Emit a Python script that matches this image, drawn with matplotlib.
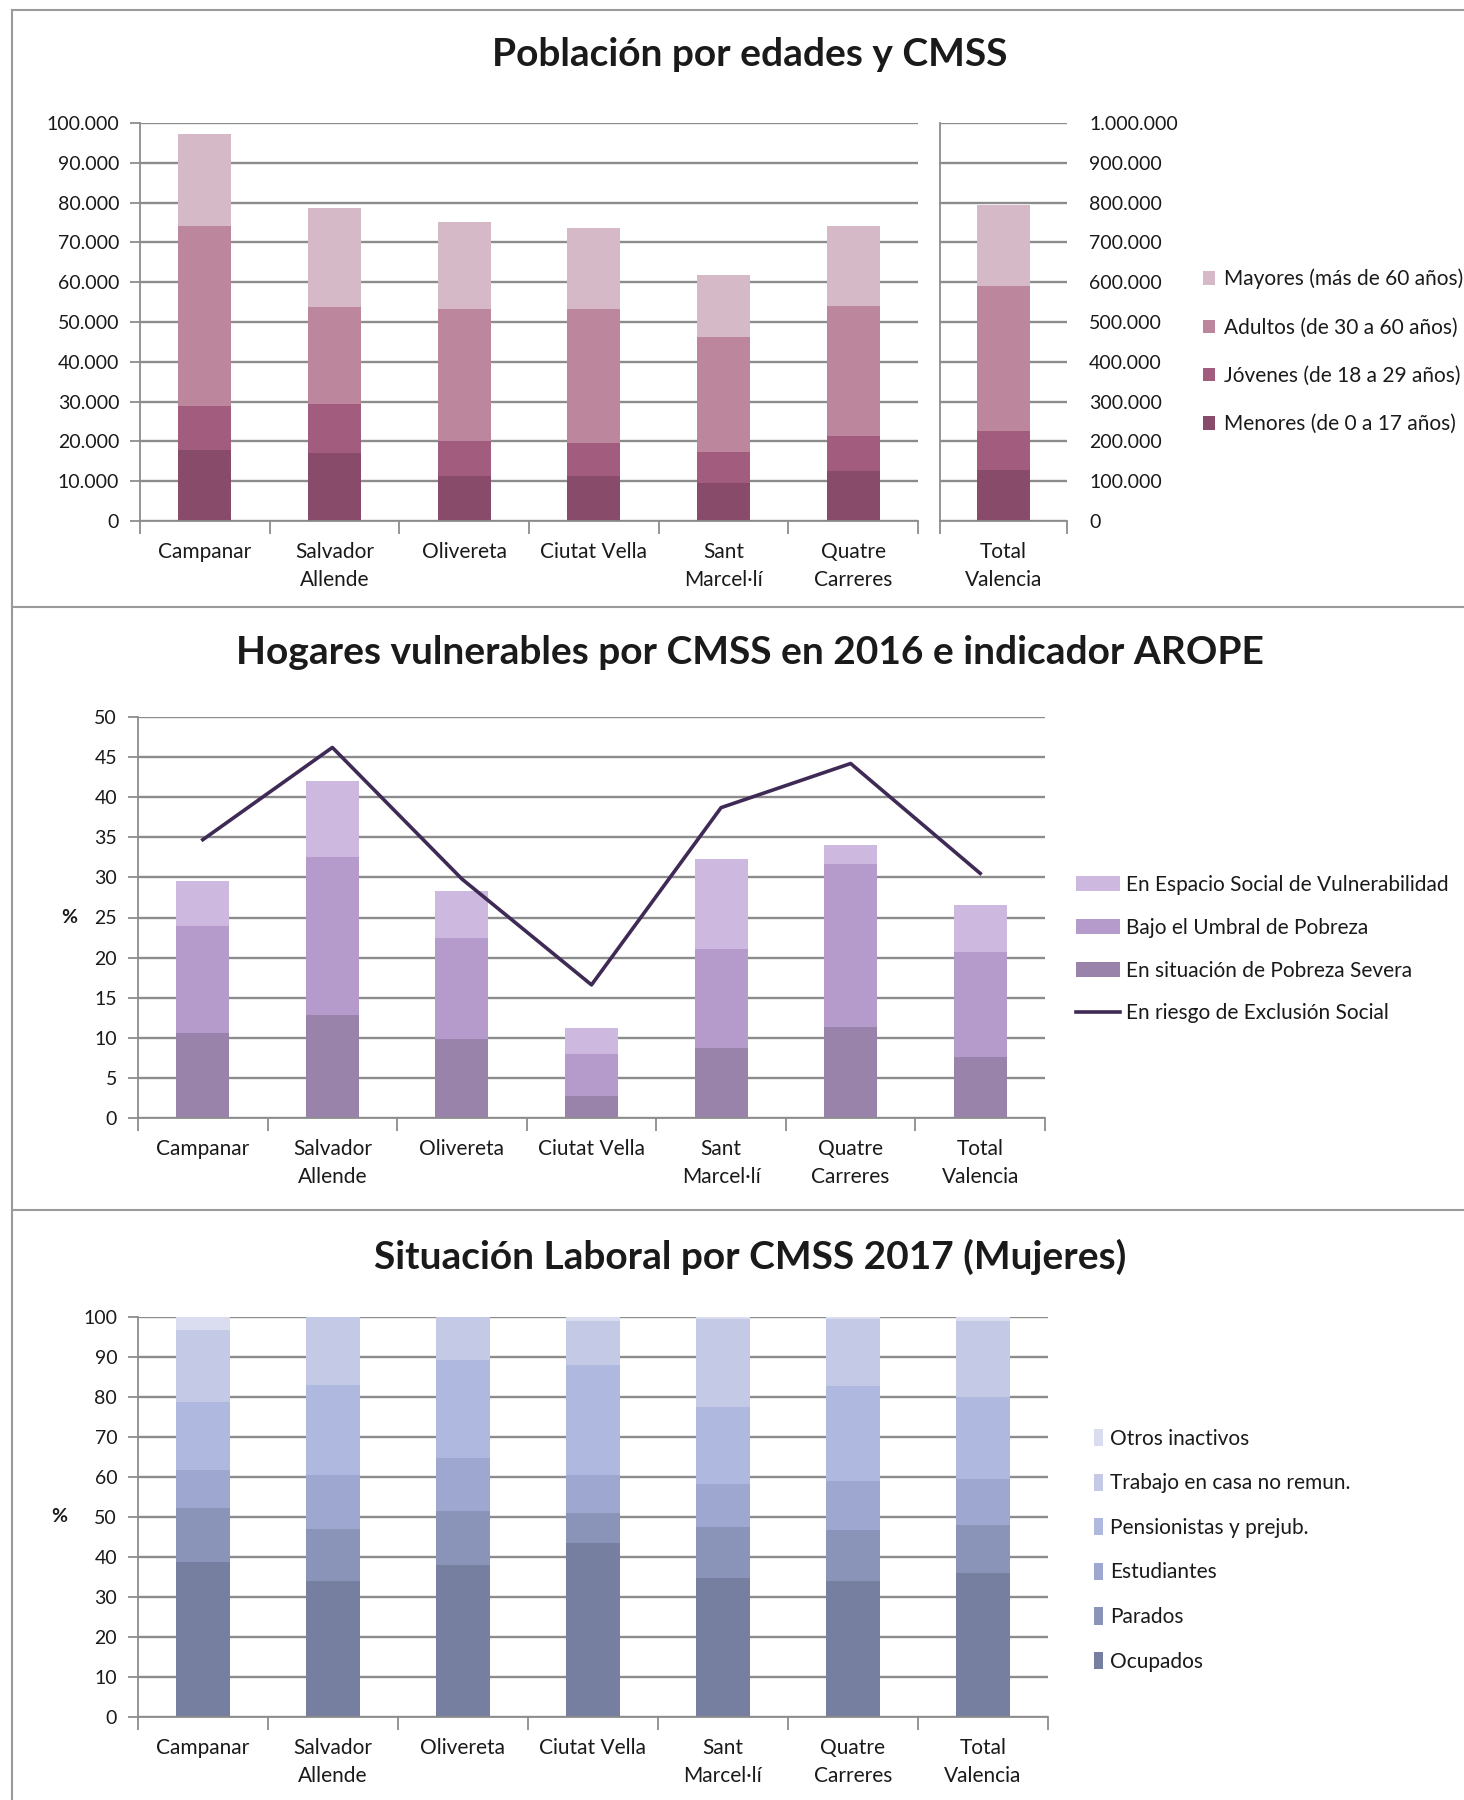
import numpy as np
import matplotlib
matplotlib.use("Agg")
import matplotlib.pyplot as plt
from matplotlib.ticker import FuncFormatter, FixedLocator
from matplotlib.lines import Line2D

plt.rcParams['font.family'] = ['Lato', 'DejaVu Sans']

# -----------------------
# Data
# -----------------------
cmss = ["Campanar", "Salvador\nAllende", "Olivereta", "Ciutat Vella",
        "Sant\nMarcel·lí", "Quatre\nCarreres"]
total_label = "Total\nValencia"

# population by age (absolute)
menores = [17800, 17000, 11300, 11300, 9500, 12500]
jovenes = [11100, 12500, 8800, 8300, 7900, 8800]
adultos = [45300, 24300, 33200, 33700, 28800, 32800]
mayores = [23100, 24800, 21700, 20400, 15500, 20100]
tot_menores = 129000
tot_jovenes = 98000
tot_adultos = 363000
tot_mayores = 204000

# vulnerable households (%)
cmss2 = cmss + [total_label]
pobreza_severa = [10.6, 12.9, 9.9, 2.7, 8.7, 11.3, 7.6]
bajo_umbral = [13.4, 19.7, 12.6, 5.3, 12.4, 20.4, 13.1]
espacio_vuln = [5.5, 9.4, 5.8, 3.2, 11.2, 2.3, 5.9]
arope = [34.7, 46.2, 29.8, 16.6, 38.7, 44.2, 30.5]

# labour situation women 2017 (%)
ocupados = [38.8, 33.9, 37.9, 43.6, 34.8, 33.9, 36.1]
parados = [13.5, 13.2, 13.6, 7.5, 12.7, 12.8, 11.8]
estudiantes = [9.4, 13.3, 13.2, 9.3, 10.7, 12.3, 11.5]
pensionistas = [17.1, 22.7, 24.6, 27.7, 19.2, 23.7, 20.6]
trabajo_casa = [18.0, 16.9, 10.7, 10.9, 22.0, 16.9, 19.0]
otros_inactivos = [3.2, 0.0, 0.0, 1.0, 0.8, 0.4, 1.0]

# -----------------------
# Style
# -----------------------
TXT = "#1a1a1a"
GRID = "#8c8c8c"
W = 1464.0
H = 1800.0
BAR_W = 0.41
FS_YTICK = 14
FS_XTICK = 15
FS_LEG = 15
FS_TITLE = 28


def axes_px(x0, y0, x1, y1):
    return fig.add_axes([x0 / W, 1 - y1 / H, (x1 - x0) / W, (y1 - y0) / H])


def style_axes(ax, ncat, labels):
    ax.set_xlim(-0.5, ncat - 0.5)
    ax.set_axisbelow(True)
    ax.yaxis.grid(True, color=GRID, lw=1.7)
    for s in ["top", "right"]:
        ax.spines[s].set_visible(False)
    for s in ["left", "bottom"]:
        ax.spines[s].set_color(GRID)
        ax.spines[s].set_linewidth(1.3)
    ax.set_xticks(range(ncat))
    ax.set_xticklabels(labels, fontsize=FS_XTICK, color=TXT, linespacing=1.5)
    ax.xaxis.set_minor_locator(FixedLocator(np.arange(ncat + 1) - 0.5))
    ax.tick_params(axis="x", which="major", length=0, pad=15)
    ax.tick_params(axis="x", which="minor", length=9, color=GRID, width=1.3)
    ax.tick_params(axis="y", length=7, color=GRID, width=1.3,
                   labelsize=FS_YTICK, labelcolor=TXT, pad=8)


def thousands(v, pos):
    return f"{int(round(v)):,}".replace(",", ".")


fig = plt.figure(figsize=(W / 100, H / 100), dpi=100)

# panel borders
for y in [10, 607, 1210]:
    fig.add_artist(Line2D([12 / W, 1], [1 - y / H, 1 - y / H], color="#9a9a9a", lw=1.5))
fig.add_artist(Line2D([12 / W, 12 / W], [1 - 10 / H, 0], color="#9a9a9a", lw=1.5))

# -----------------------
# Panel 1: population by age
# -----------------------
c_men, c_jov, c_adu, c_may = "#884B69", "#A25C7E", "#BC879D", "#D5B9C7"

ax1 = axes_px(140, 123, 918, 521)
x = np.arange(len(cmss))
b = np.zeros(len(cmss))
h_men = ax1.bar(x, menores, BAR_W, bottom=b, color=c_men, label="Menores (de 0 a 17 años)")
b += menores
h_jov = ax1.bar(x, jovenes, BAR_W, bottom=b, color=c_jov, label="Jóvenes (de 18 a 29 años)")
b += jovenes
h_adu = ax1.bar(x, adultos, BAR_W, bottom=b, color=c_adu, label="Adultos (de 30 a 60 años)")
b += adultos
h_may = ax1.bar(x, mayores, BAR_W, bottom=b, color=c_may, label="Mayores (más de 60 años)")
ax1.set_ylim(0, 100000)
ax1.set_yticks(np.arange(0, 100001, 10000))
ax1.yaxis.set_major_formatter(FuncFormatter(thousands))
style_axes(ax1, len(cmss), cmss)

ax1r = axes_px(940, 123, 1067, 521)
bt = 0
for val, col in [(tot_menores, c_men), (tot_jovenes, c_jov),
                 (tot_adultos, c_adu), (tot_mayores, c_may)]:
    ax1r.bar([0], [val], BAR_W, bottom=bt, color=col)
    bt += val
ax1r.set_ylim(0, 1000000)
ax1r.set_yticks(np.arange(0, 1000001, 100000))
ax1r.yaxis.set_major_formatter(FuncFormatter(thousands))
style_axes(ax1r, 1, [total_label])
ax1r.yaxis.tick_right()
ax1r.tick_params(axis="y", length=0, pad=16)

fig.text(750 / W, 1 - 54 / H, "Población por edades y CMSS", ha="center", va="center",
         fontsize=FS_TITLE, fontweight="bold", color=TXT)

fig.legend(handles=[h_may, h_adu, h_jov, h_men], loc="upper left",
           bbox_to_anchor=(1184 / W, 1 - 250 / H), frameon=False, fontsize=FS_LEG,
           handlelength=0.6, handleheight=0.6, handletextpad=0.4,
           labelspacing=1.36, labelcolor=TXT)

# -----------------------
# Panel 2: vulnerable households and AROPE
# -----------------------
c_sev, c_umb, c_esp, c_line = "#9983AA", "#B49BCB", "#CDB8E0", "#3F2A56"

ax2 = axes_px(138, 717, 1045, 1118)
x2 = np.arange(len(cmss2))
b = np.zeros(len(cmss2))
h_sev = ax2.bar(x2, pobreza_severa, BAR_W, bottom=b, color=c_sev, label="En situación de Pobreza Severa")
b += pobreza_severa
h_umb = ax2.bar(x2, bajo_umbral, BAR_W, bottom=b, color=c_umb, label="Bajo el Umbral de Pobreza")
b += bajo_umbral
h_esp = ax2.bar(x2, espacio_vuln, BAR_W, bottom=b, color=c_esp, label="En Espacio Social de Vulnerabilidad")
h_aro, = ax2.plot(x2, arope, color=c_line, lw=2.6, label="En riesgo de Exclusión Social")
ax2.set_ylim(0, 50)
ax2.set_yticks(np.arange(0, 51, 5))
style_axes(ax2, len(cmss2), cmss2)
ax2.text(-0.076, 0.5, "%", transform=ax2.transAxes, ha="center", va="center",
         fontsize=FS_YTICK, color=TXT, fontweight="bold")

fig.text(750 / W, 1 - 653 / H, "Hogares vulnerables por CMSS en 2016 e indicador AROPE",
         ha="center", va="center", fontsize=FS_TITLE, fontweight="bold", color=TXT)

fig.legend(handles=[h_esp, h_umb, h_sev, h_aro], loc="upper left",
           bbox_to_anchor=(1057 / W, 1 - 856 / H), frameon=False, fontsize=FS_LEG,
           handlelength=2.1, handleheight=0.75, handletextpad=0.3,
           labelspacing=1.1, labelcolor=TXT)

# -----------------------
# Panel 3: labour situation (women)
# -----------------------
series3 = [
    ("Ocupados", ocupados, "#767F9F"),
    ("Parados", parados, "#8A93B8"),
    ("Estudiantes", estudiantes, "#9DA7D0"),
    ("Pensionistas y prejub.", pensionistas, "#AFB8DE"),
    ("Trabajo en casa no remun.", trabajo_casa, "#C4C9E5"),
    ("Otros inactivos", otros_inactivos, "#DADDEF"),
]

ax3 = axes_px(138, 1317, 1048, 1717)
b = np.zeros(len(cmss2))
handles3 = []
for name, vals, col in series3:
    h = ax3.bar(x2, vals, BAR_W, bottom=b, color=col, label=name)
    handles3.append(h)
    b += vals
ax3.set_ylim(0, 100)
ax3.set_yticks(np.arange(0, 101, 10))
style_axes(ax3, len(cmss2), cmss2)
ax3.text(-0.086, 0.5, "%", transform=ax3.transAxes, ha="center", va="center",
         fontsize=FS_YTICK, color=TXT, fontweight="bold")

fig.text(750 / W, 1 - 1257 / H, "Situación Laboral por CMSS 2017 (Mujeres)",
         ha="center", va="center", fontsize=FS_TITLE, fontweight="bold", color=TXT)

fig.legend(handles=handles3[::-1], loc="upper left",
           bbox_to_anchor=(1075 / W, 1 - 1410 / H), frameon=False, fontsize=FS_LEG,
           handlelength=0.45, handleheight=0.9, handletextpad=0.35,
           labelspacing=1.18, labelcolor=TXT)

fig.savefig("out.png", dpi=100)
